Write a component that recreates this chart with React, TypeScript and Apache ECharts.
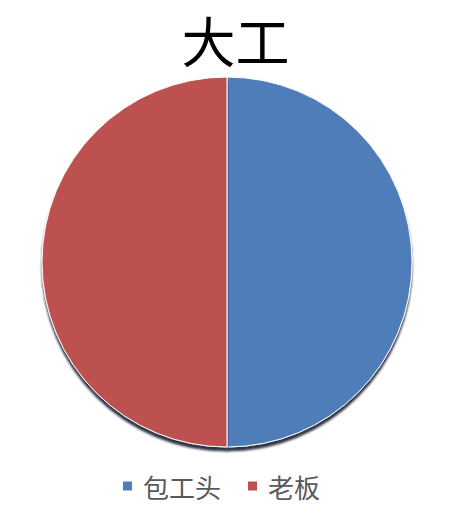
import React, { useEffect, useRef } from 'react';
import * as echarts from 'echarts';

const titleText = '大工';
const categories = ['包工头', '老板'];
const values = [50, 50];
const colors = ['#4F7DB9', '#BD5150'];

const App: React.FC = () => {
	const chartRef = useRef<HTMLDivElement>(null);

	useEffect(() => {
		if (!chartRef.current) return;
		const chart = echarts.init(chartRef.current, undefined, { renderer: 'svg' });

		const option: echarts.EChartsOption = {
			animation: false,
			backgroundColor: '#ffffff',
			title: {
				text: titleText,
				left: 'center',
				top: 3,
				padding: 0,
				textStyle: {
					color: '#000000',
					fontSize: 54,
					lineHeight: 56,
					fontWeight: 'normal',
					fontFamily: 'Noto Sans CJK SC'
				}
			},
			legend: {
				bottom: 14,
				left: 108,
				icon: 'rect',
				itemWidth: 11,
				itemHeight: 11,
				itemGap: 25,
				textStyle: {
					color: '#595959',
					fontSize: 26,
					fontFamily: 'Noto Sans CJK SC',
					padding: [0, 0, 0, 5]
				},
				data: categories
			},
			series: [
				{
					name: titleText,
					type: 'pie',
					radius: 185,
					center: [219, 254],
					startAngle: 90,
					label: { show: false },
					labelLine: { show: false },
					emphasis: { disabled: true },
					itemStyle: {
						borderColor: '#ffffff',
						borderWidth: 1,
						shadowColor: 'rgba(20, 30, 50, 0.9)',
						shadowBlur: 2,
						shadowOffsetY: 4
					},
					data: categories.map((name, i) => ({
						name,
						value: values[i],
						itemStyle: { color: colors[i] }
					}))
				}
			]
		};

		chart.setOption(option);
		return () => {
			chart.dispose();
		};
	}, []);

	return <div ref={chartRef} style={{ width: '455px', height: '510px' }} />;
};

export default App;
